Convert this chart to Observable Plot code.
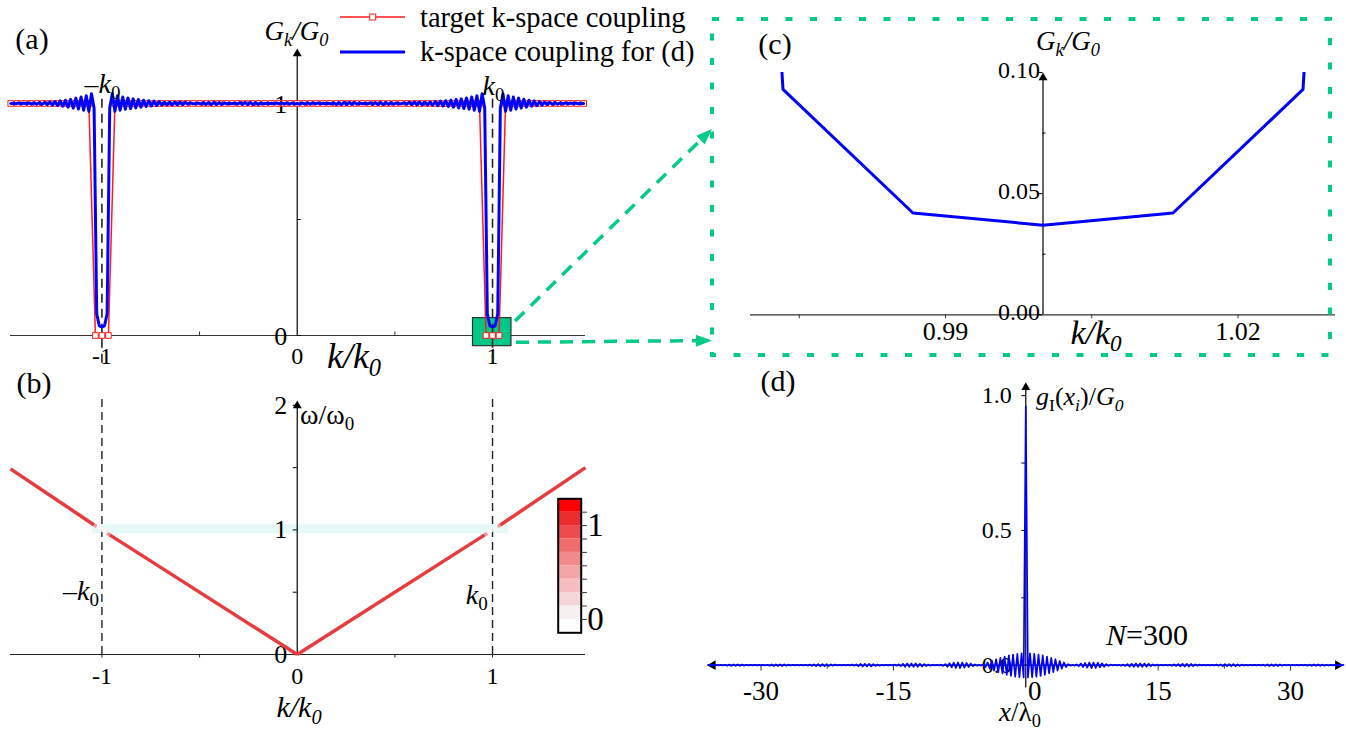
<!DOCTYPE html>
<html><head><meta charset="utf-8">
<script src="https://cdn.jsdelivr.net/npm/d3@7"></script>
<script src="https://cdn.jsdelivr.net/npm/@observablehq/plot@0.6"></script>
<style>
html,body{margin:0;padding:0;background:#fff;}
#root{position:relative;width:1346px;height:729px;overflow:hidden;font-family:"Liberation Serif","Times New Roman",serif;color:#000;}
.p{position:absolute;}
.p svg{overflow:visible;display:block;}
.lab{position:absolute;white-space:nowrap;line-height:1;}
.i{font-style:italic;}
.lab sub{font-size:0.68em;vertical-align:baseline;position:relative;top:0.32em;line-height:0;}
</style></head><body><div id="root"></div>
<script>
// ================= DATA =================
// (a)/(c) target k-space coupling, sampled every 1/30 k0, k >= 0 half (mirror-symmetric)
const targetStep = 1 / 30;
const targetHalf = [1,1,1,1,1,1,1,1,1,1, 1,1,1,1,1,1,1,1,1,1, 1,1,1,1,1,1,1,1,1,0, 0,0,1,1,1,1,1,1,1,1, 1,1,1,1,1];
// (a)/(c) k-space coupling for (d), sampled every 1/75 k0, k >= 0 half
const blueStep = 1 / 75;
const blueHalf = [
 1.000,0.998,1.002,0.997,1.003,0.997,1.003,0.998,1.002,0.999,
 1.001,0.999,1.001,0.998,1.003,0.996,1.004,0.995,1.005,0.995,
 1.005,0.996,1.004,0.997,1.002,0.999,1.001,0.998,1.003,0.996,
 1.004,0.995,1.005,0.995,1.005,0.996,1.004,0.997,1.002,0.999,
 0.999,1.003,0.997,1.005,0.995,1.006,0.994,1.006,0.994,1.006,
 0.994,1.006,0.993,1.008,0.991,1.010,0.989,1.012,0.987,1.014,
 0.984,1.017,0.981,1.020,0.978,1.024,0.975,1.028,0.971,1.033,
 0.966,1.042,0.980,0.093,0.042,0.037,0.042,0.093,0.980,1.042,
 0.966,1.033,0.971,1.028,0.976,1.023,0.980,1.018,0.984,1.014,
 0.988,1.011,0.991,1.008,0.993,1.006,0.995,1.005,0.996,1.004,
 0.997,1.003,0.997,1.003,0.998,1.002,0.998,1.002,0.999,1.001,
 1.000];
// zoomed region marked in (a)
const zoomRegion = {k1: 0.9, k2: 1.097, g1: -0.046, g2: 0.075};

// (b) dispersion omega/omega0 vs k/k0, coloured by the coupling
const dispK = [-1.468,-1.04,-1.0267,-1.0133,-1,-0.9867,-0.9733,-0.96,0,0.96,0.9733,0.9867,1,1.0133,1.0267,1.04,1.476];
const dispW = [1.49,1.04,1.0267,1.0133,1,0.9867,0.9733,0.96,0,0.96,0.9733,0.9867,1,1.0133,1.0267,1.04,1.5];
const dispG = [1,0.98,0.093,0.042,0.037,0.042,0.093,0.98,1,0.98,0.093,0.042,0.037,0.042,0.093,0.98,1];
const bandRegion = {k1: -1.048, k2: 1.082, w1: 0.969, w2: 1.041};
// colour bar bands, bottom to top
const cbarColors = ["#ffffff","#f6f0f0","#f6d7d9","#f5bec0","#f4a5a8","#f28a8c","#f06c6e","#ee4b50","#eb2d30","#ff0000"];
const cbarTicks = [0,1,2,3,4,5,6,7,8];      // in units of 1/7
const cbarLabels = [{v: 0, t: "0"}, {v: 7, t: "1"}];

// (d) real-space coupling g_I(x_i)/G0, sites every 0.24 lambda0, x >= 0 half
const siteStep = 0.24;
const gHalf = [0.96,
 -0.046,0.044,-0.045,0.042,-0.043,0.039,-0.040,0.036,-0.036,0.032,
 -0.031,0.027,-0.026,0.022,-0.020,0.016,-0.013,0.010,-0.007,0.004,
 -0.002,0.001,-0.002,0.003,-0.004,0.006,-0.007,0.008,-0.009,0.010,
 -0.010,0.010,-0.010,0.009,-0.008,0.007,-0.006,0.004,-0.003,0.002,
 -0.001,0.001,-0.001,0.001,-0.002,0.002,-0.003,0.004,-0.005,0.005,
 -0.006,0.0065,-0.0065,0.0065,-0.0065,0.006,-0.006,0.005,-0.004,0.003,
 -0.002,0.002,-0.001,0.001,-0.001,0.001,-0.001,0.001,-0.002,0.003,
 -0.003,0.004,-0.0045,0.005,-0.005,0.005,-0.005,0.0045,-0.004,0.003,
 -0.002,0.002,-0.001,0.001,-0.001,0.001,-0.001,0.001,-0.001,0.002,
 -0.002,0.003,-0.0035,0.004,-0.004,0.004,-0.004,0.004,-0.0035,0.003,
 -0.0025,0.002,-0.0015,0.001,-0.001,0.001,-0.001,0.001,-0.001,0.001,
 -0.0015,0.002,-0.0025,0.003,-0.003,0.003,-0.003,0.003,-0.003,0.0025,
 -0.002,0.0015,-0.001,0.001,-0.001,0.001,-0.001,0.001,-0.001,0.001,
 -0.001,0.0015,-0.002,0.002,-0.0025,0.0025,-0.0025,0.0025,-0.0025,0.002,
 -0.002,0.0015,-0.0015,0.001,-0.001,0.001,-0.001,0.001,-0.001,0.001];

// ticks / tick labels
const aXTicks = [-1,-0.5,0.5,1], aYTicks = [0,0.5,1];
const aXLab = [-1,0,1], aXLabText = ["-1","0","1"];
const aYLab = [0,1], aYLabText = ["0","1"];
const bXTicks = [-1,-0.5,0.5,1], bYTicks = [0.5,1,1.5,2];
const bXLab = [-1,0,1], bXLabText = ["-1","0","1"];
const bYLab = [0,1,2], bYLabText = ["0","1","2"];
const cXTicks = [0.975,0.99,1.005,1.02], cYMajor = [0,0.05,0.1], cYMinor = [0.025,0.075];
const cXLab = [0.99,1.02], cXLabText = ["0.99","1.02"];
const cYLab = [0,0.05,0.1], cYLabText = ["0.00","0.05","0.10"];
const dXMajor = [-30,-15,15,30], dXMinor = [-22.5,-7.5,7.5,22.5], dYTicks = [0.25,0.5,0.75,1];
const dXLab = [-30,-15,15,30], dXLabText = ["-30","-15","15","30"];
const dYLab = [0,0.5,1], dYLabText = ["0.0","0.5","1.0"];

// ================= HELPERS =================
const FONT = '"Liberation Serif","Times New Roman",serif';
const RED = "#ff1a1a", BLUE = "#0000ff", GREEN = "#00cc88", BOXGREEN = "#00c987";
function mirror(half, step) {
  const out = [];
  for (let i = half.length - 1; i > 0; i--) out.push({x: -i * step, y: half[i]});
  for (let i = 0; i < half.length; i++) out.push({x: i * step, y: half[i]});
  return out;
}
const target = mirror(targetHalf, targetStep);
const blue = mirror(blueHalf, blueStep);
const sites = mirror(gHalf, siteStep);
const labs = (v, t) => v.map((d, i) => ({v: d, t: t[i]}));
const style = {fontFamily: FONT, background: "transparent", overflow: "visible", color: "#000"};
const root = document.getElementById("root");
function place(el, left, top) {
  const d = document.createElement("div"); d.className = "p";
  d.style.left = left + "px"; d.style.top = top + "px"; d.appendChild(el); root.appendChild(d);
}
function label(html, x, y, size, anchor = "c") {
  const s = document.createElement("div"); s.className = "lab"; s.innerHTML = html;
  s.style.left = x + "px"; s.style.top = y + "px"; s.style.fontSize = size + "px";
  s.style.transform = anchor === "c" ? "translate(-50%,-50%)" : "translate(0,-50%)";
  root.appendChild(s);
}
const up = (x, y, r = 3.3) => Plot.dot([{x, y}], {x: "x", y: "y", symbol: "triangle", r, fill: "#000", stroke: "none", dy: r * 1.55});

// ================= (a) =================
const xDomAB = [-1.468, 1.476];
const aPxX = 575 / (xDomAB[1] - xDomAB[0]);
const aPxY = 287 / 1.237;
const plotA = Plot.plot({
  width: 700, height: 372, marginLeft: 10, marginRight: 115, marginTop: 48, marginBottom: 37,
  x: {domain: xDomAB, axis: null}, y: {domain: [0, 1.237], axis: null}, style,
  marks: [
    Plot.ruleY([0], {stroke: "#333", strokeWidth: 1.2}),
    Plot.ruleX([0], {y1: 0, y2: 1.215, stroke: "#000", strokeWidth: 1.2}),
    up(0, 1.237),
    Plot.ruleX(aXTicks, {y1: 0, y2: 3.5 / aPxY, stroke: "#333", strokeWidth: 1}),
    Plot.ruleY(aYTicks, {x1: 0, x2: 4 / aPxX, stroke: "#000", strokeWidth: 1}),
    Plot.text(labs(aXLab, aXLabText), {x: "v", y: () => 0, text: "t", dy: 21, fontSize: 24, fontFamily: FONT}),
    Plot.text(labs(aYLab, aYLabText), {x: () => 0, y: "v", text: "t", dx: -10, dy: 1, textAnchor: "end", fontSize: 26, fontFamily: FONT}),
    Plot.rect([zoomRegion], {x1: "k1", x2: "k2", y1: "g1", y2: "g2", fill: BOXGREEN, stroke: "#333", strokeWidth: 1.2}),
    Plot.ruleX([-1, 1], {y1: -0.12, y2: 1.02, stroke: "#222", strokeWidth: 1.6, strokeDasharray: "9,6"}),
    Plot.line(target, {x: "x", y: "y", stroke: RED, strokeWidth: 1.5}),
    Plot.dot(target, {x: "x", y: "y", symbol: "square", r: 3.2, stroke: RED, fill: "#fff", strokeWidth: 1}),
    Plot.line(blue, {x: "x", y: "y", stroke: BLUE, strokeWidth: 3})
  ]
});
place(plotA, 0, 0);

// ================= (b) =================
const bPxY = 124.6, bPxX = aPxX;
const segs = dispK.slice(1).map((k, i) => ({x1: dispK[i], y1: dispW[i], x2: k, y2: dispW[i + 1],
  c: d3.interpolateRgb("#ffffff", "#e8393b")(Math.min(1, (dispG[i] + dispG[i + 1]) / 2))}));
const plotB = Plot.plot({
  width: 700, height: 359, marginLeft: 10, marginRight: 115, marginTop: 28.6, marginBottom: 75,
  x: {domain: xDomAB, axis: null}, y: {domain: [0, 2.05], axis: null}, style,
  marks: [
    Plot.rect([bandRegion], {x1: "k1", x2: "k2", y1: "w1", y2: "w2", fill: "#e6f9f9"}),
    Plot.ruleY([0], {stroke: "#222", strokeWidth: 1.2}),
    Plot.ruleX([0], {y1: 0, y2: 2.0, stroke: "#000", strokeWidth: 1.2}),
    up(0, 2.038),
    Plot.ruleX(bXTicks, {y1: 0, y2: -3.5 / bPxY, stroke: "#222", strokeWidth: 1}),
    Plot.ruleY(bYTicks, {x1: 0, x2: -4 / bPxX, stroke: "#000", strokeWidth: 1}),
    Plot.text(labs(bXLab, bXLabText), {x: "v", y: () => 0, text: "t", dy: 22, fontSize: 24, fontFamily: FONT}),
    Plot.text(labs(bYLab, bYLabText), {x: () => 0, y: "v", text: "t", dx: -10, dy: 0, textAnchor: "end", fontSize: 26, fontFamily: FONT}),
    Plot.ruleX([-1, 1], {y1: 0, y2: 2.07, stroke: "#222", strokeWidth: 1.4, strokeDasharray: "8,5"}),
    Plot.link(segs, {x1: "x1", y1: "y1", x2: "x2", y2: "y2", stroke: "c", strokeWidth: 3.5, strokeLinecap: "butt"})
  ]
});
place(plotB, 0, 370);

// colour bar
const cbar = Plot.plot({
  width: 70, height: 150, marginLeft: 7.7, marginRight: 39.3, marginTop: 8.3, marginBottom: 7.7,
  x: {domain: [0, 1], axis: null}, y: {domain: [-1, 9], axis: null}, style,
  marks: [
    Plot.rect(cbarColors.map((c, j) => ({lo: j - 1, hi: j, c})), {x1: () => 0, x2: () => 1, y1: "lo", y2: "hi", fill: "c"}),
    Plot.frame({stroke: "#000", strokeWidth: 2}),
    Plot.ruleY(cbarTicks, {x1: 1, x2: 1.27, stroke: "#333", strokeWidth: 1}),
    Plot.text(cbarLabels, {x: () => 1, y: "v", text: "t", dx: 6, textAnchor: "start", fontSize: 33, fontFamily: FONT})
  ]
});
place(cbar, 550, 490);

// ================= (c) =================
const cPxX = 585 / 0.06, cPxY = 242.3 / 0.1;
const plotC = Plot.plot({
  width: 646, height: 360, marginLeft: 50, marginRight: 11, marginTop: 72, marginBottom: 45.7,
  x: {domain: [0.97, 1.03], axis: null}, y: {domain: [0, 0.1], axis: null}, style,
  marks: [
    Plot.ruleY([0], {stroke: "#333", strokeWidth: 1.2}),
    Plot.ruleX([1], {y1: 0, y2: 0.097, stroke: "#000", strokeWidth: 1.2}),
    up(1, 0.1),
    Plot.ruleX(cXTicks, {y1: 0, y2: -4 / cPxY, stroke: "#333", strokeWidth: 1}),
    Plot.ruleY(cYMajor, {x1: 1, x2: 1 - 4 / cPxX, stroke: "#000", strokeWidth: 1}),
    Plot.ruleY(cYMinor, {x1: 1, x2: 1 + 3 / cPxX, stroke: "#000", strokeWidth: 1}),
    Plot.text(labs(cXLab, cXLabText), {x: "v", y: () => 0, text: "t", dy: 17, fontSize: 26, fontFamily: FONT}),
    Plot.text(labs(cYLab, cYLabText), {x: () => 1, y: "v", text: "t", dx: -3, dy: -2, textAnchor: "end", fontSize: 24, fontFamily: FONT}),
    Plot.line(blue, {x: "x", y: "y", stroke: BLUE, strokeWidth: 3, clip: true})
  ]
});
place(plotC, 700, 0);

// ================= (d) =================
const dPxX = 636.3 / 72.1, dPxY = 309.9 / 1.15;
const plotD = Plot.plot({
  width: 646, height: 359, marginLeft: 6.7, marginRight: 3, marginTop: 11.7, marginBottom: 37.4,
  x: {domain: [-36.1, 36.0], axis: null}, y: {domain: [-0.1, 1.05], axis: null}, style,
  marks: [
    Plot.ruleY([0], {x1: -35.2, x2: 35.1, stroke: "#000", strokeWidth: 1.2}),
    Plot.ruleX([0], {y1: -0.085, y2: 1.02, stroke: "#000", strokeWidth: 1.2}),
    up(0, 1.05),
    Plot.dot([{x: 36.0, y: 0}], {x: "x", y: "y", symbol: "triangle", r: 3.6, rotate: 90, dx: -5.6, fill: "#000", stroke: "none"}),
    Plot.dot([{x: -36.1, y: 0}], {x: "x", y: "y", symbol: "triangle", r: 3.6, rotate: -90, dx: 5.6, fill: "#000", stroke: "none"}),
    Plot.ruleX(dXMajor, {y1: 0, y2: -6 / dPxY, stroke: "#333", strokeWidth: 1}),
    Plot.ruleX(dXMinor, {y1: 0, y2: -4 / dPxY, stroke: "#333", strokeWidth: 1}),
    Plot.ruleY(dYTicks, {x1: 0, x2: -4 / dPxX, stroke: "#000", strokeWidth: 1}),
    Plot.text(labs(dXLab, dXLabText), {x: "v", y: () => 0, text: "t", dy: 26, fontSize: 27, fontFamily: FONT}),
    Plot.text([{v: 0, t: "0"}], {x: "v", y: () => 0, text: "t", dx: 9, dy: 26, fontSize: 27, fontFamily: FONT}),
    Plot.text(labs(dYLab, dYLabText), {x: () => 0, y: "v", text: "t", dx: -14, textAnchor: "end", fontSize: 24, fontFamily: FONT}),
    Plot.line(sites, {x: "x", y: "y", stroke: BLUE, strokeWidth: 1.7})
  ]
});
place(plotD, 700, 370);

// ================= TEXT LABELS =================
label("(a)", 32, 39, 30);
label("(b)", 34, 383, 30);
label("(c)", 775, 44, 30);
label("(d)", 778, 381, 30);
label('<span class="i">G<sub>k</sub>/G<sub>0</sub></span>', 296.5, 31, 27);
label('<span class="i">k/k<sub>0</sub></span>', 354, 356, 36);
label('–<span class="i">k</span><sub>0</sub>', 102.5, 84, 28);
label('<span class="i">k</span><sub>0</sub>', 493.5, 86, 28);
label("target k-space coupling", 420, 18, 28.5, "l");
label("k-space coupling for (d)", 420, 52, 28.5, "l");
label('ω/ω<sub>0</sub>', 300, 415, 28, "l");
label('–<span class="i">k</span><sub>0</sub>', 81, 591, 28);
label('<span class="i">k</span><sub>0</sub>', 476.7, 595, 28);
label('<span class="i">k/k<sub>0</sub></span>', 299, 707, 30);
label('<span class="i">G<sub>k</sub>/G<sub>0</sub></span>', 1068, 41, 27);
label('<span class="i">k/k<sub>0</sub></span>', 1096, 333, 34);
label('<span class="i">g</span><sub>I</sub>(<span class="i">x<sub>i</sub></span>)/<span class="i">G<sub>0</sub></span>', 1036, 397, 26, "l");
label('<span class="i">N</span>=300', 1147, 635, 30);
label('<span class="i">x</span>/λ<sub>0</sub>', 1020, 712, 27);

// ================= OVERLAY (legend swatches, zoom frame and arrows) =================
const ov = d3.select(root).append("svg").attr("width", 1346).attr("height", 729)
  .style("position", "absolute").style("left", 0).style("top", 0).style("pointer-events", "none");
ov.append("line").attr("x1", 340).attr("x2", 405).attr("y1", 17).attr("y2", 17).attr("stroke", RED).attr("stroke-width", 1.5);
ov.append("rect").attr("x", 369.7).attr("y", 14).attr("width", 6).attr("height", 6).attr("fill", "#fff").attr("stroke", RED).attr("stroke-width", 1);
ov.append("line").attr("x1", 340).attr("x2", 405).attr("y1", 52).attr("y2", 52).attr("stroke", BLUE).attr("stroke-width", 3);
ov.append("rect").attr("x", 712).attr("y", 19).attr("width", 618).attr("height", 336)
  .attr("fill", "none").attr("stroke", GREEN).attr("stroke-width", 4).attr("stroke-dasharray", "7 17.5");
function garrow(x0, y0, x1, y1) {
  const dx = x1 - x0, dy = y1 - y0, L = Math.hypot(dx, dy), ux = dx / L, uy = dy / L;
  const hl = 16, hw = 6, bx = x1 - ux * hl, by = y1 - uy * hl;
  ov.append("line").attr("x1", x0).attr("y1", y0).attr("x2", bx).attr("y2", by)
    .attr("stroke", GREEN).attr("stroke-width", 3.5).attr("stroke-dasharray", "13 9");
  ov.append("path").attr("d", `M${x1},${y1}L${bx - uy * hw},${by + ux * hw}L${bx + uy * hw},${by - ux * hw}Z`).attr("fill", GREEN);
}
garrow(515, 321, 712, 129);
garrow(516, 342.3, 712, 340.5);
</script></body></html>
